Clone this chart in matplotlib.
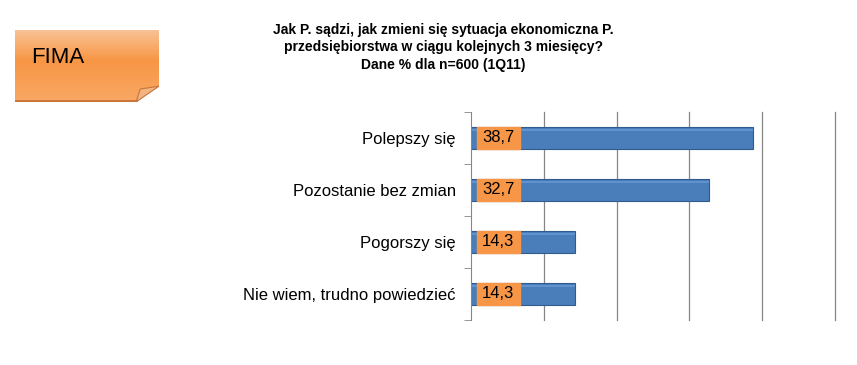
import numpy as np
import matplotlib
matplotlib.use("Agg")
import matplotlib.pyplot as plt
from matplotlib.patches import Rectangle, Polygon

plt.rcParams["font.family"] = ["Liberation Sans", "DejaVu Sans"]

categories = ["Polepszy się", "Pozostanie bez zmian", "Pogorszy się",
              "Nie wiem, trudno powiedzieć"]
values = [38.7, 32.7, 14.3, 14.3]
labels = ["38,7", "32,7", "14,3", "14,3"]
title = ("Jak P. sądzi, jak zmieni się sytuacja ekonomiczna P.\n"
         "przedsiębiorstwa w ciągu kolejnych 3 miesięcy?\n"
         "Dane % dla n=600 (1Q11)")

BLUE = "#4a7ebb"
ORANGE = "#f79646"

fig = plt.figure(figsize=(8.57, 3.65), dpi=100)
ax = fig.add_axes([471 / 857, 1 - 320 / 365, 364 / 857, 208 / 365])

y = np.arange(len(categories))[::-1]
h = 0.42
ax.barh(y, values, height=h, color=BLUE, edgecolor="#2f5b8f", lw=0.8, zorder=2)
# soft top highlight for a bevelled look
ax.barh(y + h * 0.36, values, height=h * 0.12, color="#5f92cf", lw=0, zorder=2.5)
for yi, lab in zip(y, labels):
    ax.add_patch(Rectangle((0.8, yi - h / 2), 5.9, h, color=ORANGE, zorder=3))
    ax.text(3.75, yi, lab, ha="center", va="center", fontsize=12, zorder=4)

ax.set_xlim(0, 50)
ax.set_ylim(-0.5, len(categories) - 0.5)
ax.set_xticks([10, 20, 30, 40, 50])
ax.set_xticklabels([])
ax.tick_params(axis="x", length=0)
ax.xaxis.grid(True, color="#868686", lw=0.9, zorder=0)
for gl in ax.get_xgridlines():
    gl.set_clip_on(False)
ax.set_yticks(np.arange(len(categories) + 1) - 0.5, minor=True)
ax.set_yticks(y)
ax.set_yticklabels(categories, fontsize=12)
ax.tick_params(axis="y", which="major", length=0, pad=11)
ax.tick_params(axis="y", which="minor", length=5, color="#868686")
for s in ["top", "right", "bottom"]:
    ax.spines[s].set_visible(False)
ax.spines["left"].set_color("#868686")

fig.text(443 / 857, 1 - 23 / 365, title, ha="center", va="top",
         fontsize=10, fontweight="bold", linespacing=1.3)

# FIMA note box
bx = fig.add_axes([15 / 857, 1 - 102 / 365, 144 / 857, 72 / 365])
grad = np.concatenate([np.linspace(0.0, 1.0, 30), np.linspace(1.0, 0.6, 40)])
c0 = np.array([0.98, 0.76, 0.58])
c1 = np.array([0.97, 0.59, 0.27])
img = c0[None, :] * (1 - grad[:, None]) + c1[None, :] * grad[:, None]
img = np.repeat(img[:, None, :], 10, axis=1)
bx.imshow(img, aspect="auto", extent=(0, 1, 0, 1))
bx.add_patch(Polygon([[0.84, 0], [1, 0], [1, 0.22]], closed=True,
                     color="white", zorder=3))
bx.add_patch(Polygon([[0.84, 0], [0.87, 0.18], [1, 0.22]], closed=True,
                     color="#f2b483", ec="#c9743a", lw=0.8, zorder=4))
bx.plot([0, 0.84], [0.01, 0.01], color="#c9743a", lw=2, zorder=5)
bx.set_xlim(0, 1); bx.set_ylim(0, 1)
bx.axis("off")
bx.text(0.11, 0.62, "FIMA", fontsize=16, va="center", ha="left", zorder=6)

fig.savefig("out.png", dpi=100)
